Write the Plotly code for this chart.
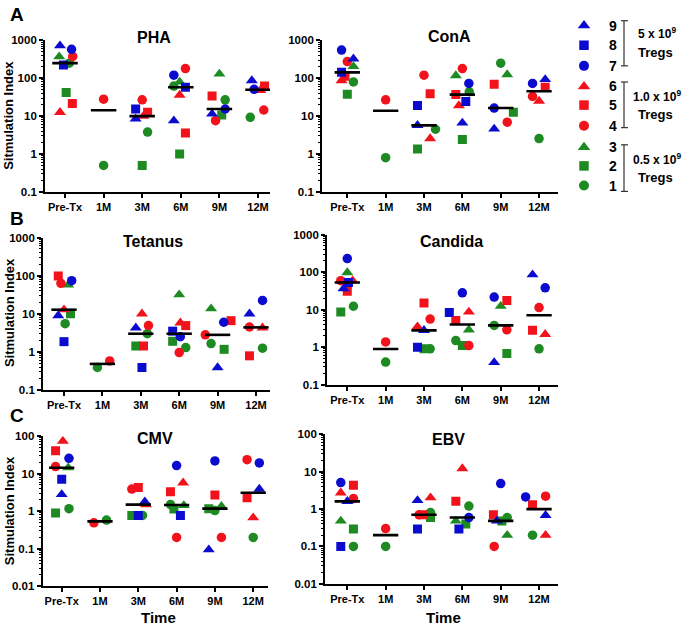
import numpy as np
import plotly.graph_objects as go

W, H = 685, 631

TIMES = ["Pre-Tx", "1M", "3M", "6M", "9M", "12M"]
SUBJECTS = [1, 2, 3, 4, 5, 6, 7, 8, 9]

# ---- values (subject -> [Pre-Tx, 1M, 3M, 6M, 9M, 12M]) ----
PHA = {
    1: [250, 0.5, 3.8, 62, 27, 9.3],
    2: [42, None, 0.5, 1.0, 10.7, None],
    3: [370, None, None, 80, 130, None],
    4: [375, 28, 27, 180, 7.6, 14.5],
    5: [21.6, None, 12.6, 3.6, 34, 62],
    6: [12.6, None, 10, 36, None, 48],
    7: [580, None, None, 120, 15.4, 51],
    8: [225, None, 15.4, 58, None, None],
    9: [720, None, 8.5, 7.6, 11.4, 87],
}
CONA = {
    1: [80, 0.8, 4.5, 44, 250, 2.55],
    2: [38, None, 1.35, 2.4, 12.6, None],
    3: [205, None, None, 118, 125, None],
    4: [275, 27, 120, 180, 6.9, 33],
    5: [113, None, 39, 37, 69, 58],
    6: [87, None, 2.55, 19, None, 25],
    7: [555, None, None, 73, 16.3, 73],
    8: [143, None, 19, 24.4, None, None],
    9: [325, None, 5.7, 6.6, 4.6, 93],
}
TETANUS = {
    1: [5.5, 0.39, 3.0, 1.3, 1.65, 1.25],
    2: [10, None, 1.43, 1.9, 1.17, None],
    3: [57, None, None, 31.6, 13.6, None],
    4: [63, 0.58, 4.9, 0.96, 2.8, 4.5],
    5: [98, None, 1.43, 4.9, 6.6, 0.79],
    6: [12.8, None, 10, 5.8, None, 4.3],
    7: [74, None, None, 2.5, 6.0, 22.4],
    8: [1.86, None, 0.39, 3.5, None, None],
    9: [9, None, 4.3, None, 0.39, 10],
}
CANDIDA = {
    1: [12.3, 0.40, 0.9, 1.5, 3.8, 0.9],
    2: [8.7, None, 0.9, 1.1, 0.68, None],
    3: [97, None, None, 2.9, 12.3, None],
    4: [59, 1.38, 5.6, 1.1, 2.9, 11.3],
    5: [31, None, 15, 5.1, 17.6, 2.8],
    6: [59, None, 3.5, 8.7, None, 2.2],
    7: [230, None, None, 28, 21.6, 38],
    8: [53, None, 1.0, 8.4, None, None],
    9: [36, None, 2.8, None, 0.39, 85],
}
CMV = {
    1: [1.17, 0.58, 0.77, 1.5, 1.04, 0.2],
    2: [0.9, None, 0.77, 1.15, 1.17, None],
    3: [14.4, None, None, 1.43, 1.35, None],
    4: [15.5, 0.49, 3.9, 0.2, 0.2, 23.6],
    5: [41, None, 4.3, 3.3, 2.7, 2.3],
    6: [74, None, 1.5, 5.7, None, 0.67],
    7: [25.6, None, None, 16.5, 21.9, 19.4],
    8: [7.1, None, 0.77, 0.77, None, None],
    9: [2.8, None, 1.8, None, 0.094, 3.9],
}
EBV = {
    1: [0.1, 0.1, 0.8, 1.2, 0.59, 0.2],
    2: [0.29, None, 0.59, 0.40, 0.48, None],
    3: [0.48, None, None, 0.48, 0.2, None],
    4: [1.9, 0.30, 0.7, None, 0.1, 2.2],
    5: [4.3, None, 0.7, 1.6, 0.7, 1.3],
    6: [2.7, None, 2.0, 12.1, None, 0.2],
    7: [5.1, None, None, 0.59, 4.8, 2.1],
    8: [0.1, None, 0.29, 0.29, None, None],
    9: [1.6, None, 1.7, None, 0.48, 0.68],
}

# ---- horizontal scatter (jitter) of each point, in category units ----
PHA_JIT = {
    1: [0.11, 0, 0.14, -0.18, 0.15, -0.2], 2: [0.03, 0, 0, -0.03, 0.06, 0],
    3: [-0.15, 0, 0, -0.03, 0, 0], 4: [0.2, 0, 0, 0.12, -0.1, 0.15],
    5: [0.19, 0, 0.14, 0.12, -0.19, 0.17], 6: [-0.13, 0, 0.03, -0.03, 0, 0.06],
    7: [0.17, 0, 0, -0.18, 0.15, -0.1], 8: [-0.04, 0, -0.17, 0.12, 0, 0],
    9: [-0.13, 0, -0.17, -0.18, -0.19, -0.16],
}
CONA_JIT = {
    1: [0.16, 0, 0.3, 0.18, 0, 0], 2: [0, 0, -0.17, 0, 0.33, 0],
    3: [0.16, 0, 0, -0.17, 0.17, 0], 4: [0, 0, 0, 0, 0.17, -0.17],
    5: [-0.06, 0, 0.16, -0.17, -0.17, 0.16], 6: [-0.15, 0, 0.16, -0.09, 0, 0],
    7: [-0.15, 0, 0, 0.17, -0.17, -0.17], 8: [-0.15, 0, -0.17, 0.09, 0, 0],
    9: [0.16, 0, -0.17, 0, -0.17, 0.16],
}
TETANUS_JIT = {
    1: [0.03, -0.13, 0.17, 0.17, -0.17, 0.17], 2: [0.17, 0, -0.13, -0.17, 0.17, 0],
    3: [0.11, 0, 0, 0, -0.17, 0], 4: [-0.08, 0.19, 0.2, 0, -0.32, -0.17],
    5: [-0.15, 0, 0.07, 0.17, 0.35, -0.17], 6: [0, 0, 0.03, 0.03, 0, 0.17],
    7: [0.2, 0, 0, 0.03, 0.16, 0.17], 8: [0, 0, 0.03, -0.17, 0, 0],
    9: [-0.15, 0, -0.13, 0, 0, -0.17],
}
CANDIDA_JIT = {
    1: [0.16, 0, 0.16, -0.17, -0.17, 0], 2: [-0.17, 0, 0, 0, 0.16, 0],
    3: [0, 0, 0, 0.17, 0, 0], 4: [-0.17, 0, 0.16, 0.17, 0.16, 0],
    5: [0, 0, 0, -0.17, 0.16, -0.17], 6: [0.14, 0, -0.17, 0.17, 0, 0.16],
    7: [0, 0, 0, 0, -0.17, 0.16], 8: [0.03, 0, -0.17, -0.34, 0, 0],
    9: [-0.1, 0, 0, 0, -0.17, -0.17],
}
CMV_JIT = {
    1: [0.19, 0.17, 0.11, -0.16, 0, 0], 2: [-0.16, 0, -0.17, -0.07, -0.16, 0],
    3: [0.17, 0, 0, 0.19, 0.17, 0], 4: [-0.16, -0.16, -0.17, 0, 0.17, -0.16],
    5: [-0.16, 0, 0, -0.16, 0, -0.16], 6: [0.03, 0, 0.2, 0.17, 0, 0],
    7: [0.19, 0, 0, 0, 0, 0.16], 8: [0, 0, 0, 0.1, 0, 0],
    9: [0, 0, 0.17, 0, -0.16, 0.16],
}
EBV_JIT = {
    1: [0.16, 0, 0.17, 0.17, 0.17, -0.17], 2: [0.16, 0, 0.17, 0.09, 0.03, 0],
    3: [-0.17, 0, 0, -0.17, 0.17, 0], 4: [0.16, 0, -0.13, 0, -0.17, 0.17],
    5: [0.16, 0, -0.02, -0.17, -0.19, -0.17], 6: [-0.17, 0, 0.17, 0, 0, 0.17],
    7: [-0.17, 0, 0, 0.17, 0, -0.35], 8: [-0.17, 0, -0.17, -0.09, 0, 0],
    9: [0, 0, -0.17, 0, -0.1, 0.17],
}

# ---- styles ----
BLUE, RED, GREEN = "#0b0bcf", "#f2121c", "#1d8a22"
COLOR = {1: GREEN, 2: GREEN, 3: GREEN, 4: RED, 5: RED, 6: RED, 7: BLUE, 8: BLUE, 9: BLUE}
SYMBOL = {1: "circle", 2: "square", 3: "triangle-up", 4: "circle", 5: "square",
          6: "triangle-up", 7: "circle", 8: "square", 9: "triangle-up"}
MSIZE = {"circle": 9.5, "square": 9, "triangle-up": 10.5}
FONT = "Liberation Sans, Arial, sans-serif"

# panel geometry in pixels: (x_left, x_right, first-category px, category spacing, y_top, y_bottom)
PANELS = [
    ("PHA", PHA, PHA_JIT, (-1, 3), (45, 270, 65.0, 38.6, 35, 189.5)),
    ("ConA", CONA, CONA_JIT, (-1, 3), (322, 558, 347.3, 38.35, 35, 189.5)),
    ("Tetanus", TETANUS, TETANUS_JIT, (-1, 3), (43, 270, 64.0, 38.4, 236, 391.5)),
    ("Candida", CANDIDA, CANDIDA_JIT, (-1, 3), (327, 558, 347.3, 38.35, 233, 386)),
    ("CMV", CMV, CMV_JIT, (-2, 2), (42.5, 268, 61.7, 38.3, 438.5, 591.5)),
    ("EBV", EBV, EBV_JIT, (-2, 2), (325, 558, 347.3, 38.35, 436.5, 589)),
]

fig = go.Figure()
layout = {}
annotations = []

def fmt(v):
    return ("%g" % v)

for k, (name, data, jit, (lo, hi), (xl, xr, c0, sp, yt, yb)) in enumerate(PANELS):
    n = k + 1
    xa = "x" if n == 1 else f"x{n}"
    ya = "y" if n == 1 else f"y{n}"
    for s in SUBJECTS:
        vals = data[s]
        xs = [i + jit[s][i] for i, v in enumerate(vals) if v is not None]
        ys = [v for v in vals if v is not None]
        fig.add_trace(go.Scatter(
            x=xs, y=ys, mode="markers", xaxis=xa, yaxis=ya, showlegend=False,
            marker=dict(symbol=SYMBOL[s], color=COLOR[s], size=MSIZE[SYMBOL[s]],
                        line=dict(width=0)),
            hovertemplate=f"{name} subject {s}: %{{y}}<extra></extra>"))
    # medians
    mx, my = [], []
    for i in range(len(TIMES)):
        col = [data[s][i] for s in SUBJECTS if data[s][i] is not None]
        if col:
            m = float(np.median(col))
            mx += [i - 0.33, i + 0.33, None]
            my += [m, m, None]
    fig.add_trace(go.Scatter(x=mx, y=my, mode="lines", xaxis=xa, yaxis=ya,
                             showlegend=False, line=dict(color="black", width=2.6),
                             hoverinfo="skip"))
    xrng = [(xl - c0) / sp, (xr - c0) / sp]
    majors = [10.0 ** e for e in range(lo, hi + 1)]
    minors = [m * 10.0 ** e for e in range(lo, hi) for m in range(2, 10)]
    layout["xaxis" if n == 1 else f"xaxis{n}"] = dict(
        domain=[xl / W, xr / W], range=xrng, anchor=ya,
        tickvals=list(range(len(TIMES))), ticktext=TIMES,
        ticks="outside", ticklen=4, tickwidth=1.5, tickcolor="black",
        showline=True, linecolor="black", linewidth=1.8, showgrid=False, zeroline=False,
        tickfont=dict(family=FONT, size=11, color="black", weight="bold"),
        fixedrange=True)
    layout["yaxis" if n == 1 else f"yaxis{n}"] = dict(
        domain=[1 - yb / H, 1 - yt / H], type="log", range=[lo, hi], anchor=xa,
        tickvals=majors, ticktext=[fmt(v) for v in majors],
        ticks="outside", ticklen=4, tickwidth=1.5, tickcolor="black",
        minor=dict(tickvals=minors, ticks="outside", ticklen=2, tickwidth=1,
                   tickcolor="black", showgrid=False),
        showline=True, linecolor="black", linewidth=1.8, showgrid=False, zeroline=False,
        tickfont=dict(family=FONT, size=11.5, color="black", weight="bold"),
        fixedrange=True)

# titles
TITLE_POS = {"PHA": (154, 32), "ConA": (449, 31), "Tetanus": (153, 240),
             "Candida": (452, 240), "CMV": (155, 441), "EBV": (448, 442)}
for nm, (px, py) in TITLE_POS.items():
    annotations.append(dict(text=nm, x=px / W, y=1 - py / H, xref="paper", yref="paper",
                            showarrow=False, xanchor="center", yanchor="middle",
                            font=dict(family=FONT, size=16, color="black", weight="bold")))
# panel letters
for lt, (px, py) in {"A": (16.5, 9), "B": (16.5, 217), "C": (16.5, 417)}.items():
    annotations.append(dict(text=lt, x=px / W, y=1 - py / H, xref="paper", yref="paper",
                            showarrow=False, xanchor="center", yanchor="middle",
                            font=dict(family=FONT, size=19, color="black", weight="bold")))
# y titles
for py in [112, 313, 515]:
    annotations.append(dict(text="Sitmulation Index", x=9 / W, y=1 - py / H, xref="paper",
                            yref="paper", showarrow=False, textangle=-90,
                            xanchor="center", yanchor="middle",
                            font=dict(family=FONT, size=13, color="black", weight="bold")))
# x titles
for px in [158, 443]:
    annotations.append(dict(text="Time", x=px / W, y=1 - 623.5 / H, xref="paper",
                            yref="paper", showarrow=False, xanchor="center", yanchor="middle",
                            font=dict(family=FONT, size=15, color="black", weight="bold")))

# ---- custom legend on an overlay axis in pixel units ----
LEG_ROWS = {9: 20, 8: 40, 7: 61, 6: 82, 5: 101, 4: 122, 3: 144, 2: 163, 1: 183}
for s in SUBJECTS:
    fig.add_trace(go.Scatter(
        x=[584], y=[LEG_ROWS[s]], mode="markers", xaxis="x7", yaxis="y7",
        showlegend=False, hoverinfo="skip",
        marker=dict(symbol=SYMBOL[s], color=COLOR[s], size=MSIZE[SYMBOL[s]] + 0.5,
                    line=dict(width=0))))
    annotations.append(dict(text=str(s), x=613, y=LEG_ROWS[s], xref="x7", yref="y7",
                            showarrow=False, xanchor="center", yanchor="middle",
                            font=dict(family=FONT, size=14, color="black", weight="bold")))
layout["xaxis7"] = dict(domain=[0, 1], range=[0, W], visible=False, fixedrange=True,
                        anchor="y7")
layout["yaxis7"] = dict(domain=[0, 1], range=[H, 0], visible=False, fixedrange=True,
                        anchor="x7")

shapes = []
BRACKETS = [(15, 61, "5 x 10<sup>9</sup>", 38, 47),
            (77.5, 124, "1.0 x 10<sup>9</sup>", 102, 111),
            (141.5, 189, "0.5 x 10<sup>9</sup>", 166, 175)]
for top, bot, dose, ty1, ty2 in BRACKETS:
    for seg in [(624, top, 624, bot), (621, top, 628, top), (621, bot, 628, bot)]:
        shapes.append(dict(type="line", xref="x7", yref="y7", x0=seg[0], y0=seg[1],
                           x1=seg[2], y1=seg[3], line=dict(color="#333333", width=1.2)))
    annotations.append(dict(text=dose, x=657, y=ty1, xref="x7", yref="y7", showarrow=False,
                            xanchor="center", yanchor="bottom",
                            font=dict(family=FONT, size=12, color="black", weight="bold")))
    annotations.append(dict(text="Tregs", x=655, y=ty2, xref="x7", yref="y7", showarrow=False,
                            xanchor="center", yanchor="middle",
                            font=dict(family=FONT, size=13, color="black", weight="bold")))

fig.update_layout(
    width=W, height=H, margin=dict(l=0, r=0, t=0, b=0),
    paper_bgcolor="white", plot_bgcolor="rgba(0,0,0,0)",
    showlegend=False, annotations=annotations, shapes=shapes,
    font=dict(family=FONT, color="black"),
    **layout)

fig.write_html("out.html", config={"displayModeBar": False},
               post_script="document.body.style.margin='0';document.body.style.padding='0';")
